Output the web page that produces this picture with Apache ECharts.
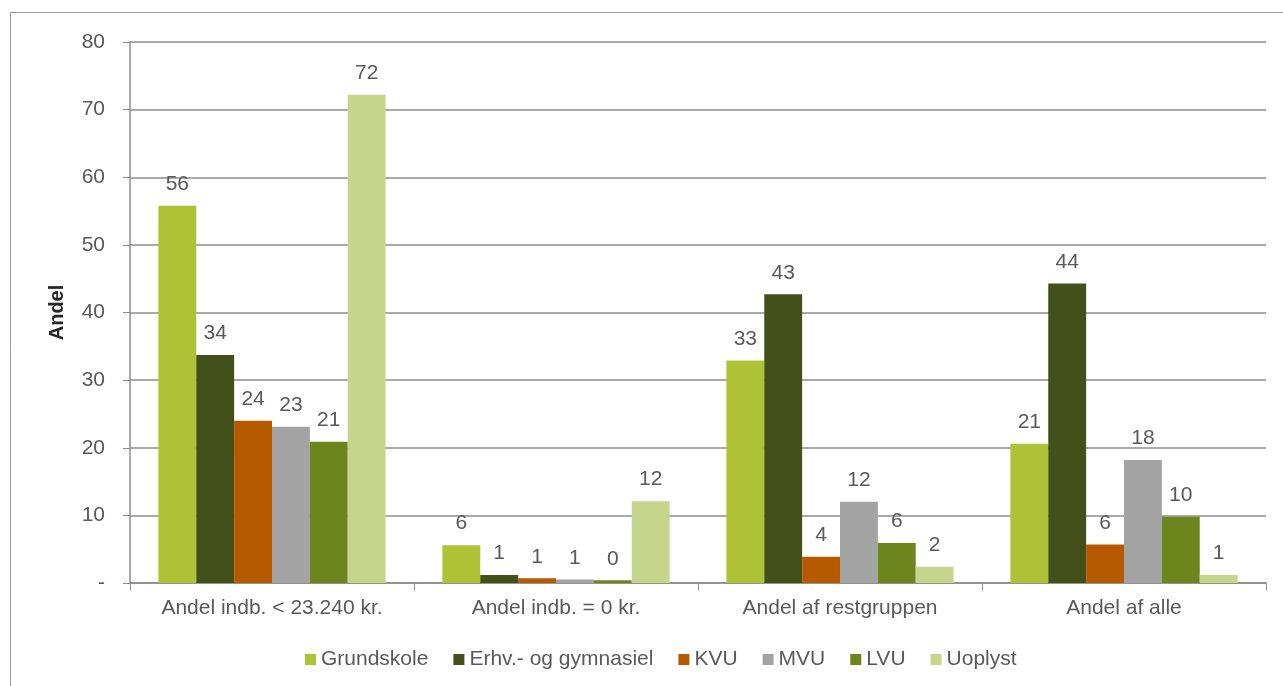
<!DOCTYPE html>
<html>
<head>
<meta charset="utf-8">
<script src="https://cdn.jsdelivr.net/npm/echarts@6/dist/echarts.min.js"></script>
<style>
  html, body { margin: 0; padding: 0; background: #fff; }
  #main { width: 1283px; height: 686px; }
</style>
</head>
<body>
<div id="main"></div>
<script>
// kategorier og serier
var categories = ['Andel indb. < 23.240 kr.', 'Andel indb. = 0 kr.', 'Andel af restgruppen', 'Andel af alle'];
var seriesNames = ['Grundskole', 'Erhv.- og gymnasiel', 'KVU', 'MVU', 'LVU', 'Uoplyst'];
var grundskole = [55.8, 5.6, 32.9, 20.6];
var erhv = [33.7, 1.2, 42.7, 44.3];
var kvu = [24.0, 0.7, 3.9, 5.7];
var mvu = [23.1, 0.5, 12.0, 18.2];
var lvu = [20.9, 0.4, 5.9, 9.8];
var uoplyst = [72.2, 12.1, 2.4, 1.2];
var colors = ['#aec235', '#435019', '#b65a00', '#a3a3a3', '#6e841c', '#c6d48c'];

var allValues = [grundskole, erhv, kvu, mvu, lvu, uoplyst];
var textColor = '#595959';
var lineColor = '#8c8c8c';
var font = 'Liberation Sans, Arial, sans-serif';

var myChart = echarts.init(document.getElementById('main'));

var series = [];
for (var i = 0; i < seriesNames.length; i++) {
    series.push({
        name: seriesNames[i],
        type: 'bar',
        data: allValues[i],
        barGap: '0%',
        barCategoryGap: '20%',
        itemStyle: { color: colors[i] },
        label: {
            show: true,
            position: 'top',
            distance: 11,
            color: textColor,
            fontSize: 21,
            fontFamily: font,
            formatter: function (p) { return Math.round(p.value); }
        }
    });
}

option = {
    animation: false,
    textStyle: { fontFamily: font },
    // ramme (kun venstre og top er synlig)
    graphic: [{
        type: 'polyline',
        shape: { points: [[10.5, 700], [10.5, 12.5], [1290, 12.5]] },
        style: { fill: 'none', stroke: '#999', lineWidth: 1 },
        silent: true
    }],
    grid: { left: 130, right: 17, top: 42, bottom: 103 },
    legend: {
        data: seriesNames,
        left: 300,
        top: 644,
        itemWidth: 11,
        itemHeight: 11,
        itemGap: 25,
        icon: 'rect',
        textStyle: { color: textColor, fontSize: 21, fontFamily: font }
    },
    xAxis: {
        type: 'category',
        data: categories,
        axisLine: { lineStyle: { color: lineColor, width: 1.5 } },
        axisTick: { show: true, length: 7, lineStyle: { color: lineColor } },
        axisLabel: { color: textColor, fontSize: 21, fontFamily: font, margin: 15, interval: 0 }
    },
    yAxis: {
        type: 'value',
        min: 0,
        max: 80,
        interval: 10,
        name: 'Andel',
        nameLocation: 'middle',
        nameGap: 63,
        nameTextStyle: { color: '#262626', fontSize: 20, fontWeight: 'bold', fontFamily: font },
        axisLine: { show: true, lineStyle: { color: lineColor, width: 1.5 } },
        axisTick: { show: true, length: 7, lineStyle: { color: lineColor } },
        axisLabel: {
            color: textColor, fontSize: 21, fontFamily: font, margin: 25,
            formatter: function (v) { return v === 0 ? '-' : v; }
        },
        splitLine: { lineStyle: { color: lineColor, width: 1.5 } }
    },
    series: series
};

myChart.setOption(option);
</script>
</body>
</html>
